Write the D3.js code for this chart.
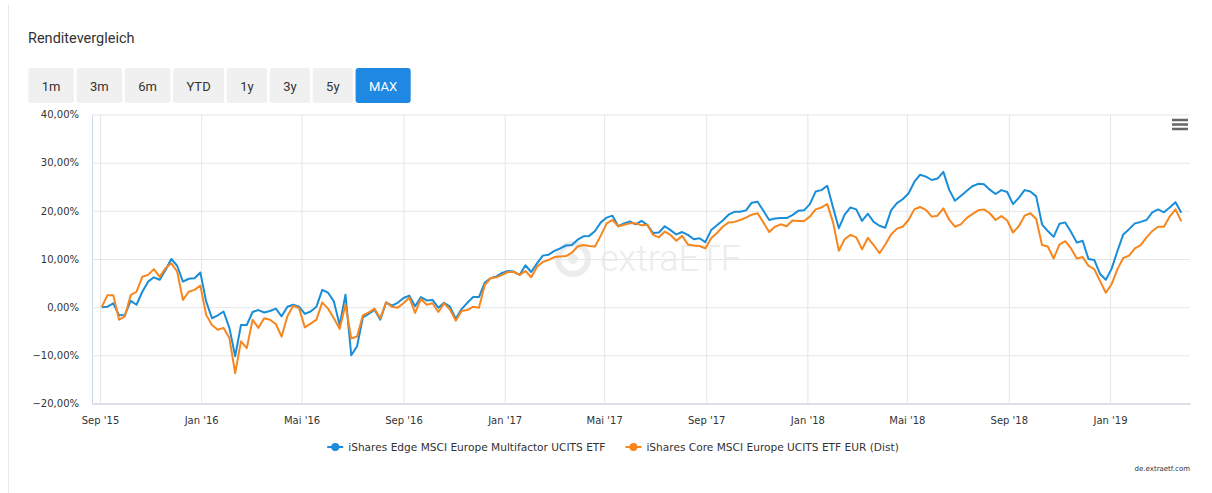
<!DOCTYPE html>
<html>
<head>
<meta charset="utf-8">
<script src="https://cdn.jsdelivr.net/npm/d3@7/dist/d3.min.js"></script>
<style>
  body { margin: 0; background: #fff; }
  svg text { font-family: "DejaVu Sans", sans-serif; }
</style>
</head>
<body>
<div id="chart"></div>
<script>

const width = 1212, height = 493;

// weekly closes, performance in % since first day
const firstDay = new Date(2015, 8, 3);
const seriesNames = ["iShares Edge MSCI Europe Multifactor UCITS ETF",
                     "iShares Core MSCI Europe UCITS ETF EUR (Dist)"];
const seriesColors = ["#1a8dd8", "#f7861e"];
const rangeButtons = ["1m", "3m", "6m", "YTD", "1y", "3y", "5y", "MAX"];
const monthNames = ["Jan", "Feb", "Mär", "Apr", "Mai", "Jun", "Jul", "Aug", "Sep", "Okt", "Nov", "Dez"];
const yTicks = [-20, -10, 0, 10, 20, 30, 40];

const edge = [
  0.0, 0.1, 0.8, -1.7, -1.6, 1.3, 0.5, 3.2, 5.3, 6.2,
  5.7, 7.7, 10.0, 8.6, 5.3, 5.9, 6.0, 7.2, 1.2, -2.3,
  -1.7, -0.9, -4.3, -10.2, -3.7, -3.7, -1.0, -0.6, -1.1, -0.8,
  -0.3, -1.9, 0.1, 0.5, 0.1, -1.4, -0.9, 0.1, 3.6, 3.0,
  1.2, -3.7, 2.6, -10.0, -8.1, -2.1, -1.4, -0.5, -2.6, 1.0,
  0.3, 0.9, 1.9, 2.4, 0.2, 2.1, 1.4, 1.5, -0.1, 0.9,
  0.1, -2.4, -0.4, 0.9, 2.1, 2.1, 5.1, 6.0, 6.4, 7.1,
  7.5, 7.4, 6.7, 8.7, 7.3, 9.1, 10.7, 10.9, 11.7, 12.2,
  12.8, 12.9, 14.0, 14.7, 14.8, 15.8, 17.6, 18.6, 19.0, 16.8,
  17.4, 17.8, 17.2, 17.9, 17.1, 15.4, 15.5, 16.8, 16.0, 15.1,
  15.6, 15.0, 14.1, 14.3, 13.5, 16.0, 17.0, 18.0, 19.2, 19.8,
  19.8, 20.1, 21.7, 21.9, 20.0, 18.1, 18.4, 18.5, 18.5, 19.1,
  20.0, 20.1, 21.4, 24.0, 24.3, 25.2, 20.7, 16.4, 19.2, 20.7,
  20.3, 17.9, 19.4, 17.7, 16.9, 16.5, 20.1, 21.6, 22.4, 23.6,
  26.0, 27.5, 27.1, 26.4, 26.7, 28.1, 24.4, 22.1, 23.1, 24.1,
  25.1, 25.6, 25.5, 24.4, 23.5, 24.3, 23.9, 21.4, 22.7, 24.3,
  24.0, 23.0, 17.2, 15.8, 14.6, 17.3, 17.6, 15.6, 13.4, 13.8,
  10.0, 9.8, 6.9, 5.7, 8.0, 11.7, 15.1, 16.2, 17.4, 17.7,
  18.1, 19.7, 20.3, 19.7, 20.7, 21.8, 19.6
];

const core = [
  0.0, 2.5, 2.5, -2.6, -1.9, 2.5, 3.2, 6.3, 6.7, 7.9,
  6.3, 8.1, 9.1, 7.4, 1.5, 3.2, 3.6, 4.5, -1.6, -3.7,
  -4.7, -4.3, -6.4, -13.7, -7.1, -8.5, -2.6, -4.3, -2.3, -2.6,
  -3.5, -6.1, -1.9, 0.3, -0.2, -4.2, -3.4, -2.6, 1.0, -0.3,
  -2.3, -4.5, 0.5, -6.5, -6.1, -1.7, -1.1, -0.3, -2.3, 1.0,
  0.1, -0.1, 0.8, 2.0, -1.2, 1.7, 0.5, 0.8, -1.0, 0.8,
  -0.5, -2.8, -0.8, -0.6, 0.1, -0.1, 4.6, 6.0, 6.2, 6.7,
  7.3, 7.3, 6.7, 7.5, 6.2, 8.4, 9.4, 9.8, 10.4, 10.5,
  10.6, 11.3, 12.6, 12.9, 12.7, 12.6, 14.9, 17.4, 18.1, 16.8,
  17.1, 17.4, 17.4, 17.0, 17.1, 15.0, 14.5, 15.7, 15.0, 13.8,
  14.8, 13.0, 12.8, 12.7, 12.2, 14.3, 15.4, 16.7, 17.6, 17.7,
  18.1, 18.6, 19.2, 19.5, 17.6, 15.6, 16.7, 17.2, 16.8, 18.0,
  17.9, 17.9, 18.8, 20.3, 20.7, 21.4, 17.6, 11.7, 14.1, 15.0,
  14.5, 12.0, 14.4, 12.9, 11.2, 13.0, 15.1, 16.3, 16.7, 18.1,
  20.3, 20.8, 20.2, 18.8, 19.0, 20.5, 18.2, 16.7, 17.2, 18.5,
  19.3, 20.1, 20.3, 19.5, 18.1, 18.9, 18.0, 15.5, 16.8, 19.0,
  19.5, 18.3, 12.9, 12.6, 10.1, 13.0, 13.7, 12.2, 10.1, 10.4,
  8.6, 7.9, 5.4, 3.0, 4.8, 7.9, 10.2, 10.7, 12.2, 12.9,
  14.5, 15.8, 16.7, 16.7, 18.8, 20.3, 17.8
];

// one date per weekly value
const dates = edge.map((v, i) => d3.timeDay.offset(firstDay, i * 7));

const plot = { left: 92, right: 1190, top: 114.5, bottom: 403.5 };

const svg = d3.select("#chart").append("svg")
    .attr("width", width)
    .attr("height", height);

// card border on the left
svg.append("line")
    .attr("x1", 8.5).attr("x2", 8.5).attr("y1", 5).attr("y2", height)
    .attr("stroke", "#e8e8e8");

svg.append("text")
    .attr("x", 28).attr("y", 42.5)
    .style("font-family", "Roboto, sans-serif")
    .style("font-size", "14.5px")
    .attr("fill", "#333")
    .text("Renditevergleich");

// range selector buttons
let bx = 28.3;
rangeButtons.forEach(function (label, i) {
    const g = svg.append("g");
    const active = label === "MAX";
    const rect = g.append("rect")
        .attr("y", 68).attr("height", 35)
        .attr("rx", 3)
        .attr("fill", active ? "#1f88e2" : "#f0f0f0");
    const t = g.append("text")
        .attr("y", 90.5)
        .attr("text-anchor", "middle")
        .style("font-family", "Roboto, sans-serif")
        .style("font-size", "13px")
        .attr("fill", active ? "#fff" : "#333")
        .text(label);
    const w = t.node().getComputedTextLength() + 27;
    rect.attr("x", bx).attr("width", w);
    t.attr("x", bx + w / 2);
    bx += w + 2.5;
});

const x = d3.scaleTime()
    .domain([new Date(2015, 7, 22, 8), new Date(2019, 3, 7, 11)])
    .range([plot.left, plot.right]);

const y = d3.scaleLinear()
    .domain([-20, 40])
    .range([plot.bottom, plot.top]);

// watermark
const wm = svg.append("g").attr("fill", "#ececec");
wm.append("circle").attr("cx", 573).attr("cy", 259).attr("r", 15)
    .attr("fill", "none").attr("stroke", "#ececec").attr("stroke-width", 6);
wm.append("circle").attr("cx", 573).attr("cy", 259).attr("r", 5);
wm.append("text")
    .attr("x", 600).attr("y", 271)
    .style("font-family", "Roboto, sans-serif")
    .style("font-weight", 300)
    .style("font-size", "36px")
    .text("extraETF");

// horizontal grid + y labels
const yAxis = svg.append("g")
    .attr("transform", `translate(${plot.left},0)`)
    .call(d3.axisLeft(y).tickValues(yTicks)
        .tickSize(-(plot.right - plot.left))
        .tickSizeOuter(0)
        .tickPadding(13)
        .tickFormat(d => d3.format(".2f")(d).replace(".", ",") + "%"));
yAxis.select(".domain").attr("stroke", "#ccd6eb");
yAxis.selectAll(".tick line").attr("stroke", "#e6e6e6");
yAxis.selectAll(".tick text")
    .attr("fill", "#333").style("font-size", "10px");

// vertical grid + x labels
const fmtMonth = d => monthNames[d.getMonth()] + " '" + d3.timeFormat("%y")(d);
const xAxis = svg.append("g")
    .attr("transform", `translate(0,${plot.bottom})`)
    .call(d3.axisBottom(x).ticks(d3.timeMonth.every(4))
        .tickSize(-(plot.bottom - plot.top))
        .tickSizeOuter(0)
        .tickPadding(13)
        .tickFormat(fmtMonth));
xAxis.select(".domain").attr("stroke", "#d5d9e0").attr("stroke-width", 1.5);
xAxis.selectAll(".tick line").attr("stroke", "#e6e6e6");
xAxis.selectAll(".tick text")
    .attr("fill", "#333").style("font-size", "10px");

// lines
const line = d3.line()
    .x((d, i) => x(dates[i]))
    .y(d => y(d));

[edge, core].forEach(function (values, i) {
    svg.append("path")
        .datum(values)
        .attr("fill", "none")
        .attr("stroke", seriesColors[i])
        .attr("stroke-width", 2)
        .attr("stroke-linejoin", "round")
        .attr("d", line);
});

// export menu icon
const menu = svg.append("g").attr("stroke", "#666").attr("stroke-width", 2.5);
[120, 124.5, 129].forEach(yy => {
    menu.append("line").attr("x1", 1172).attr("x2", 1188).attr("y1", yy).attr("y2", yy);
});

// legend
const legend = svg.append("g");
const items = seriesNames.map(function (name, i) {
    const g = legend.append("g");
    g.append("line").attr("x1", 0).attr("x2", 16).attr("y1", 0).attr("y2", 0)
        .attr("stroke", seriesColors[i]).attr("stroke-width", 2);
    g.append("circle").attr("cx", 8).attr("cy", 0).attr("r", 4).attr("fill", seriesColors[i]);
    const t = g.append("text").attr("x", 21).attr("y", 4)
        .attr("fill", "#333").style("font-size", "10.6px").text(name);
    return { g: g, w: 21 + t.node().getComputedTextLength() };
});
const totalW = d3.sum(items, d => d.w) + 20;
let lx = 613 - totalW / 2;
items.forEach(function (it) {
    it.g.attr("transform", `translate(${lx},447)`);
    lx += it.w + 20;
});

// credits
svg.append("text")
    .attr("x", 1190).attr("y", 471)
    .attr("text-anchor", "end")
    .attr("fill", "#333")
    .style("font-size", "7px")
    .text("de.extraetf.com");

</script>
</body>
</html>
